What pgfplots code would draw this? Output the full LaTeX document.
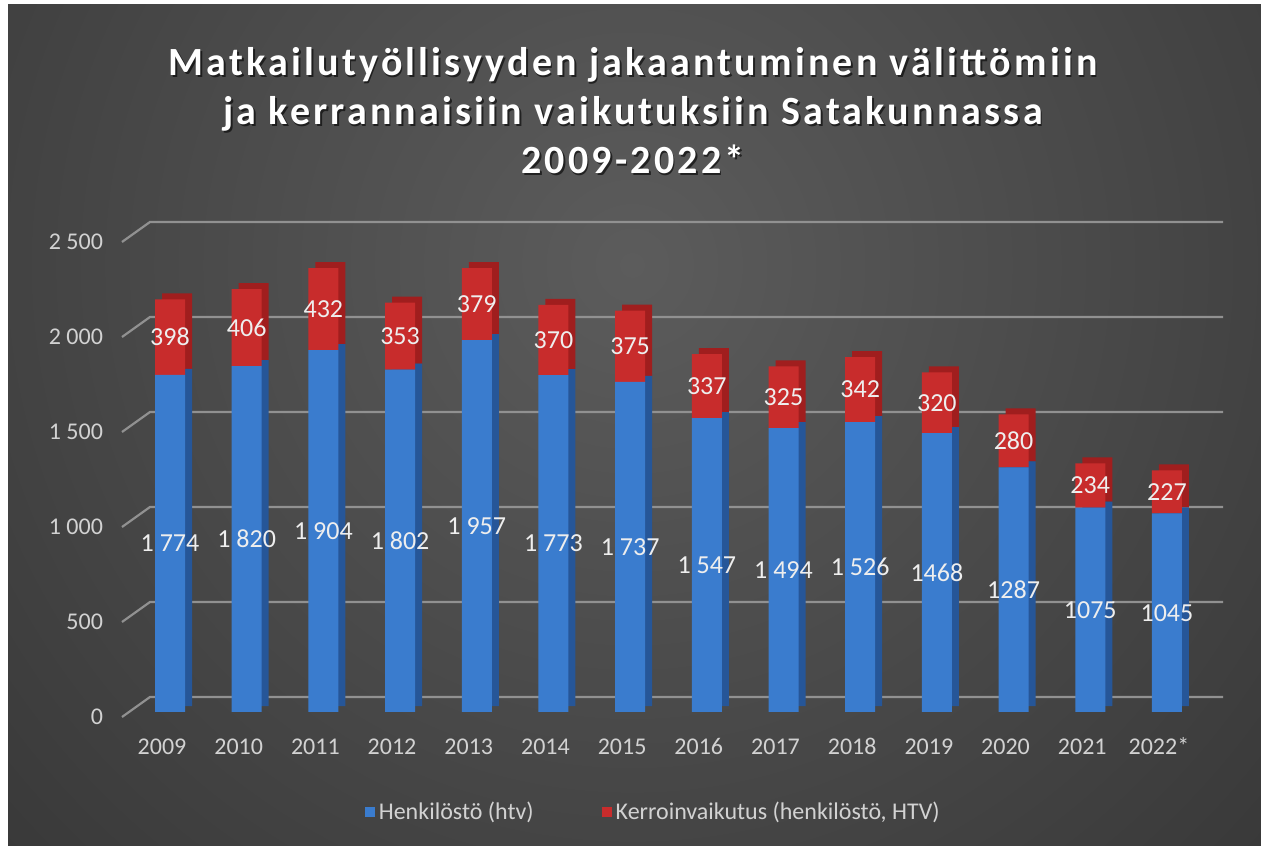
\documentclass[border=0pt]{standalone}
\usepackage{fontspec}
\setmainfont{Carlito}
\newfontfamily\titlefont[LetterSpace=8]{Carlito}
\usepackage{pgfplots}
\pgfplotsset{compat=1.18}
\definecolor{bgin}{RGB}{92,92,92}
\definecolor{bgout}{RGB}{30,30,30}
\definecolor{bluef}{RGB}{58,124,206}
\definecolor{blues}{RGB}{38,86,152}
\definecolor{redf}{RGB}{200,44,44}
\definecolor{reds}{RGB}{160,30,30}
\definecolor{gridc}{RGB}{145,145,145}
\definecolor{tickc}{RGB}{210,210,210}
\definecolor{labc}{RGB}{238,238,238}
\pgfplotsset{
  base/.style={
    at={(61pt,66.5pt)}, anchor=south west,
    scale only axis, width=535.5pt, height=237.5pt,
    xmin=-0.626, xmax=13.34, ymin=0, ymax=2500,
    clip=false,
  },
  lab/.style={only marks, mark=*, mark size=0pt, mark options={draw=none, fill=none}, forget plot,
    point meta=explicit symbolic, nodes near coords,
    every node near coord/.append style={anchor=center, text=labc, font=\fontsize{13pt}{13pt}\selectfont}},
}
\begin{document}
\begin{tikzpicture}
\fill[white] (0,0) rectangle (630.5pt,422.5pt);
\begin{scope}
\clip (4pt,0pt) rectangle (630.5pt,420pt);
\shade[inner color=bgin, outer color=bgout] (316pt,290pt) circle (760pt);
\end{scope}
% title
\node[align=center, text=black, opacity=0.6, font=\titlefont\bfseries\fontsize{20pt}{24.5pt}\selectfont] at (317.3pt,366.2pt) {Matkailutyöllisyyden jakaantuminen välittömiin\\ja kerrannaisiin vaikutuksiin Satakunnassa\\2009-2022*};
\node[align=center, text=white, font=\titlefont\bfseries\fontsize{20pt}{24.5pt}\selectfont] at (316.5pt,367pt) {Matkailutyöllisyyden jakaantuminen välittömiin\\ja kerrannaisiin vaikutuksiin Satakunnassa\\2009-2022*};
% grid (back wall)
\begin{axis}[base, hide axis]
\pgfplotsinvokeforeach{0,500,1000,1500,2000,2500}{
  \draw[gridc, line width=1.1pt] (axis cs:-0.626,#1) ++(0pt,-2.5pt) -- ++(14pt,10pt) -- ++(536.5pt,0pt);
}
\end{axis}
% side faces
\begin{axis}[base, at={(64.5pt,69.5pt)}, hide axis, ybar stacked, bar width=15pt]
\addplot[fill=blues, draw=none] coordinates {(0,1774) (1,1820) (2,1904) (3,1802) (4,1957) (5,1773) (6,1737) (7,1547) (8,1494) (9,1526) (10,1468) (11,1287) (12,1075) (13,1045)};
\addplot[fill=reds, draw=none] coordinates {(0,398) (1,406) (2,432) (3,353) (4,379) (5,370) (6,375) (7,337) (8,325) (9,342) (10,320) (11,280) (12,234) (13,227)};
\end{axis}
% front faces
\begin{axis}[base, ybar stacked, bar width=15pt,
  axis line style={draw=none}, major tick length=0pt,
  xtick={0,...,13},
  xticklabels={2009,2010,2011,2012,2013,2014,2015,2016,2017,2018,2019,2020,2021,2022*},
  ytick={0,500,1000,1500,2000,2500},
  yticklabels={0,500,1 000,1 500,2 000,2 500},
  xticklabel style={font=\fontsize{12pt}{12pt}\selectfont, text=tickc, text height=9pt, text depth=2pt, yshift=-8.5pt, xshift=-4pt},
  yticklabel style={font=\fontsize{12pt}{12pt}\selectfont, text=tickc, xshift=-6pt, yshift=-2.5pt},
]
\addplot[fill=bluef, draw=none] coordinates {(0,1774) (1,1820) (2,1904) (3,1802) (4,1957) (5,1773) (6,1737) (7,1547) (8,1494) (9,1526) (10,1468) (11,1287) (12,1075) (13,1045)};
\addplot[fill=redf, draw=none] coordinates {(0,398) (1,406) (2,432) (3,353) (4,379) (5,370) (6,375) (7,337) (8,325) (9,342) (10,320) (11,280) (12,234) (13,227)};
\end{axis}
% data labels and legend
\begin{axis}[base, hide axis,
  legend style={draw=none, fill=none, text=tickc, font=\fontsize{12pt}{12pt}\selectfont,
    at={(0.497,-0.2105)}, anchor=center, legend columns=2,
    /tikz/every even column/.append style={column sep=32pt}},
]
\addlegendimage{legend image code/.code={\fill[bluef] (0pt,-2.3pt) rectangle (4.6pt,2.3pt);}}
\addlegendentry{Henkilöstö (htv)}
\addlegendimage{legend image code/.code={\fill[redf] (0pt,-2.3pt) rectangle (4.6pt,2.3pt);}}
\addlegendentry{Kerroinvaikutus (henkilöstö, HTV)}
\addplot[lab] coordinates {(0,887) [1\ 774] (1,910) [1\ 820] (2,952) [1\ 904] (3,901) [1\ 802] (4,978.5) [1\ 957] (5,886.5) [1\ 773] (6,868.5) [1\ 737] (7,773.5) [1\ 547] (8,747) [1\ 494] (9,763) [1\ 526] (10,734) [1468] (11,643.5) [1287] (12,537.5) [1075] (13,522.5) [1045]};
\addplot[lab] coordinates {(0,1973) [398] (1,2023) [406] (2,2120) [432] (3,1978.5) [353] (4,2146.5) [379] (5,1958) [370] (6,1924.5) [375] (7,1715.5) [337] (8,1656.5) [325] (9,1697) [342] (10,1628) [320] (11,1427) [280] (12,1192) [234] (13,1158.5) [227]};
\end{axis}
\end{tikzpicture}
\end{document}
